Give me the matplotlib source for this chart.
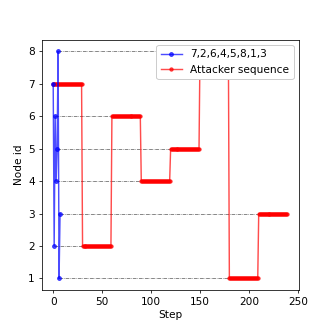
import matplotlib
matplotlib.use("Agg")
import matplotlib.pyplot as plt

# victim node order, one node per step
victim_nodes = [7, 2, 6, 4, 5, 8, 1, 3]
victim_steps = [0, 1, 2, 3, 4, 5, 6, 7]

# attacker stays 30 steps on each node in the same order
dwell = 30
attacker_steps = []
attacker_nodes = []
for i, node in enumerate(victim_nodes):
    for k in range(dwell):
        attacker_steps.append(i * dwell + k)
        attacker_nodes.append(node)

fig = plt.figure(figsize=(4.8, 4.8), dpi=332 / 4.8)
ax = fig.add_subplot(111)
fig.subplots_adjust(left=0.125, right=0.9, bottom=0.127, top=0.88)

# dash-dot guide from the victim point to where the attacker reaches that node
for i, node in enumerate(victim_nodes):
    ax.hlines(node, victim_steps[i], i * dwell, colors="k", linestyles="-.",
              linewidth=0.6, alpha=0.8, zorder=1)

ax.plot(victim_steps, victim_nodes, color="blue", marker="o", markersize=4,
        linewidth=1.5, alpha=0.7, label=",".join(str(n) for n in victim_nodes), zorder=3)
ax.plot(attacker_steps, attacker_nodes, color="red", marker=".", markersize=7,
        linewidth=1.5, alpha=0.7, label="Attacker sequence", zorder=2)

ax.set_xlabel("Step", fontsize=11)
ax.set_ylabel("Node id", fontsize=11)
ax.tick_params(labelsize=11)
ax.set_yticks(range(1, 9))
ax.legend(loc="upper right", fontsize=11, framealpha=1.0)

fig.savefig("out.png", dpi=332 / 4.8)
